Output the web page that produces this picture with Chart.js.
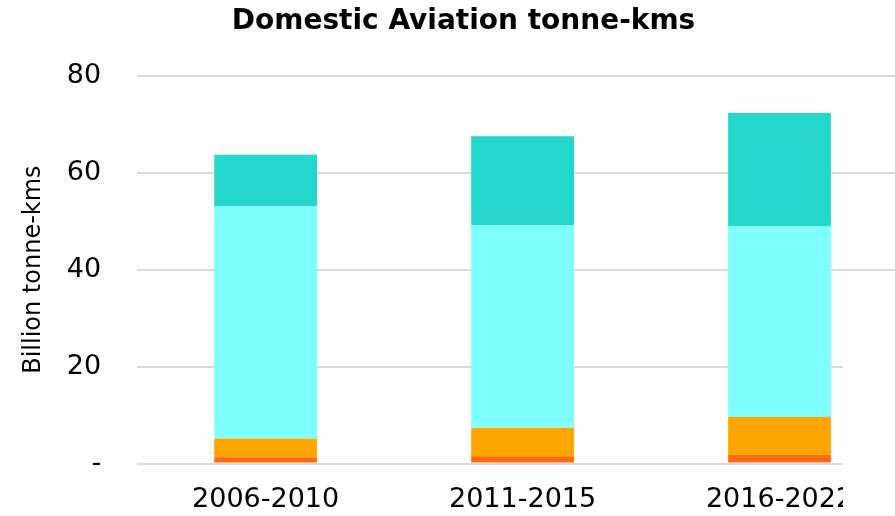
<!DOCTYPE html>
<html>
<head>
<meta charset="utf-8">
<script src="https://cdn.jsdelivr.net/npm/chart.js@4"></script>
<style>
  html, body { margin: 0; padding: 0; background: #fff; overflow: hidden; }
  #wrap { width: 918px; height: 522px; }
</style>
</head>
<body>
<div id="wrap"><canvas id="chart"></canvas></div>
<script>
// Data (billion tonne-kms)
const periods = ['2006-2010', '2011-2015', '2016-2022'];
const series1 = [1.3, 1.5, 1.8];    // dark orange, bottom
const series2 = [3.9, 5.9, 7.8];    // orange
const series3 = [47.8, 41.8, 39.4]; // light cyan
const series4 = [10.7, 18.3, 23.3]; // teal, top
const yTicks = [0, 20, 40, 60, 80];

const FONT = '"DejaVu Sans", sans-serif';

// blank area at the lower right (where the original legend box sat)
const blankBox = {
    id: 'blankBox',
    afterDraw(chart) {
        const ctx = chart.ctx;
        const y = chart.scales.y;
        const top = y.getPixelForValue(30);
        ctx.save();
        ctx.fillStyle = '#fff';
        ctx.fillRect(843, top, 100, chart.height - top);
        ctx.restore();
    }
};

const ctx = document.getElementById('chart').getContext('2d');
new Chart(ctx, {
    type: 'bar',
    data: {
        labels: periods,
        datasets: [
            { label: 'Series 1', data: series1, backgroundColor: '#FF6A0E' },
            { label: 'Series 2', data: series2, backgroundColor: '#FFA602' },
            { label: 'Series 3', data: series3, backgroundColor: '#80FFFF' },
            { label: 'Series 4', data: series4, backgroundColor: '#25D6CD' }
        ]
    },
    options: {
        responsive: true,
        maintainAspectRatio: false,
        animation: false,
        layout: { padding: { left: 19, right: 10, top: 5, bottom: -14 } },
        datasets: { bar: { barPercentage: 0.4, categoryPercentage: 1.0 } },
        plugins: {
            legend: { display: false },
            tooltip: { enabled: false },
            title: {
                display: true,
                text: 'Domestic Aviation tonne-kms',
                color: '#000',
                font: { family: FONT, size: 28, weight: 'bold' },
                padding: { top: 0, bottom: 37 }
            }
        },
        scales: {
            x: {
                stacked: true,
                grid: { display: false, drawTicks: false },
                border: { display: false },
                ticks: { color: '#000', font: { family: FONT, size: 27 }, padding: 20, maxRotation: 0 }
            },
            y: {
                stacked: true,
                min: 0,
                max: 80,
                afterBuildTicks: axis => { axis.ticks = yTicks.map(v => ({ value: v })); },
                grid: { color: '#d9d9d9', lineWidth: 2, drawTicks: false },
                border: { display: false },
                ticks: {
                    color: '#000',
                    font: { family: FONT, size: 27 },
                    padding: 36,
                    callback: v => v === 0 ? '-' : v
                },
                title: {
                    display: true,
                    text: 'Billion tonne-kms',
                    color: '#000',
                    font: { family: FONT, size: 24 },
                    padding: { top: 0, bottom: -17 }
                }
            }
        }
    },
    plugins: [blankBox]
});
</script>
</body>
</html>
